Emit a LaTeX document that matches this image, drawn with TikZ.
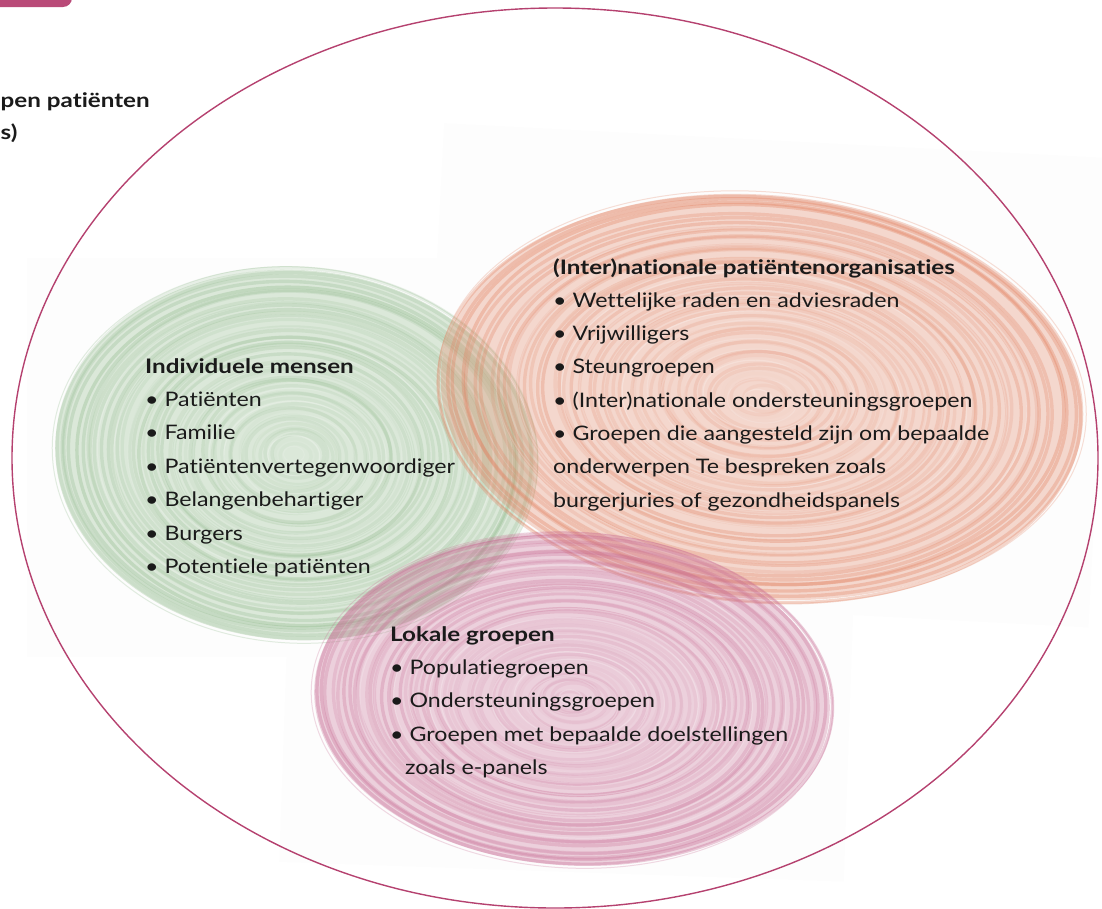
\documentclass[tikz,border=0pt]{standalone}
\usepackage{fontspec}
\setmainfont{Lato}[Ligatures={NoCommon},
  UprightFeatures={FakeStretch=1.16},
  BoldFeatures={FakeStretch=1.21}]
\definecolor{rimc}{HTML}{B5416F}
\definecolor{tabc}{HTML}{B94A78}
\definecolor{grn}{HTML}{8DB889}
\definecolor{org}{HTML}{E2805F}
\definecolor{pnk}{HTML}{C86A93}
\definecolor{txt}{HTML}{1A1A1A}
\definecolor{paper}{HTML}{FDFDFD}
\newcommand\crayonblob[6]{% cx, cy, rx, ry, color, rotation
  \fill[#5, opacity=0.30, rotate around={#6:(#1,#2)}] (#1,#2) ellipse [x radius=#3, y radius=#4];
  \foreach \i in {3,...,46}{%
    \pgfmathsetmacro\ff{\i/46}%
    \pgfmathsetmacro\op{0.05+0.22*\ff+0.08*rand}%
    \pgfmathsetmacro\dx{rand*3}%
    \pgfmathsetmacro\dy{rand*3}%
    \draw[#5, line width=3.4pt, opacity=\op, rotate around={#6:(#1,#2)}]
      ({#1+\dx},{#2+\dy}) ellipse [x radius={#3*\ff}, y radius={#4*\ff}];
  }%
  \foreach \i in {2,5,...,40}{%
    \pgfmathsetmacro\ff{\i/46}%
    \pgfmathsetmacro\op{0.10+0.15*rnd}%
    \pgfmathsetmacro\dx{rand*4}%
    \pgfmathsetmacro\dy{rand*4}%
    \draw[white, line width=1.2pt, opacity=\op, rotate around={#6:(#1,#2)}]
      ({#1+\dx},{#2+\dy}) ellipse [x radius={#3*\ff}, y radius={#4*\ff}];
  }%
  \draw[#5, line width=1pt, opacity=0.25, rotate around={#6:(#1,#2)}]
      (#1,#2) ellipse [x radius={#3+3}, y radius={#4+3}];
}
\begin{document}
\begin{tikzpicture}[x=1pt,y=-1pt,
  body/.style={anchor=base west, inner sep=0pt, text=txt, font=\fontsize{20}{24}\selectfont},
  head/.style={body, font=\fontsize{20}{24}\selectfont\bfseries}]
\useasboundingbox (0,0) rectangle (1102,908);
\clip (0,0) rectangle (1102,908);
\pgfmathsetseed{7}
% faint paper backgrounds
\fill[paper] (27,258) rectangle (545,657);
\fill[paper, rotate around={-3:(760,400)}] (430,140) rectangle (1100,610);
\fill[paper, rotate around={-2:(570,700)}] (285,520) rectangle (850,872);
% crayon blobs
\crayonblob{295}{455}{240}{185}{grn}{-4}
\crayonblob{762}{397}{322}{202}{org}{-5}
\crayonblob{572}{700}{258}{165}{pnk}{-3}
% outer ellipse
\draw[rimc, line width=1.4pt] (555,458) ellipse [x radius=543, y radius=450];
% top-left tab
\fill[tabc, rounded corners=9pt] (-20,-20) rectangle (72,7);
\node[head] (t1) at (0.5,107) {pen patiënten};
\node[head] (t2) at (0.5,139) {s)};
% green group
\node[head] (g0) at (145,373) {Individuele mensen};
\node[body] (g1) at (145,406.4) {• Patiënten};
\node[body] (g2) at (145,439.8) {• Familie};
\node[body] (g3) at (145,473.2) {• Patiëntenvertegenwoordiger};
\node[body] (g4) at (145,506.6) {• Belangenbehartiger};
\node[body] (g5) at (145,540) {• Burgers};
\node[body] (g6) at (145,573.4) {• Potentiele patiënten};
% orange group
\node[head] (o0) at (553,274) {(Inter)nationale patiëntenorganisaties};
\node[body] (o1) at (553,307.3) {• Wettelijke raden en adviesraden};
\node[body] (o2) at (553,340.6) {• Vrijwilligers};
\node[body] (o3) at (553,373.9) {• Steungroepen};
\node[body] (o4) at (553,407.2) {• (Inter)nationale ondersteuningsgroepen};
\node[body] (o5) at (553,440.5) {• Groepen die aangesteld zijn om bepaalde};
\node[body] (o6) at (553,473.8) {onderwerpen Te bespreken zoals};
\node[body] (o7) at (553,507.1) {burgerjuries of gezondheidspanels};
% pink group
\node[head] (p0) at (390,641) {Lokale groepen};
\node[body] (p1) at (390,674.4) {• Populatiegroepen};
\node[body] (p2) at (390,707.8) {• Ondersteuningsgroepen};
\node[body] (p3) at (390,741.2) {• Groepen met bepaalde doelstellingen};
\node[body] (p4) at (405,774.6) {zoals e-panels};
\end{tikzpicture}
\end{document}
